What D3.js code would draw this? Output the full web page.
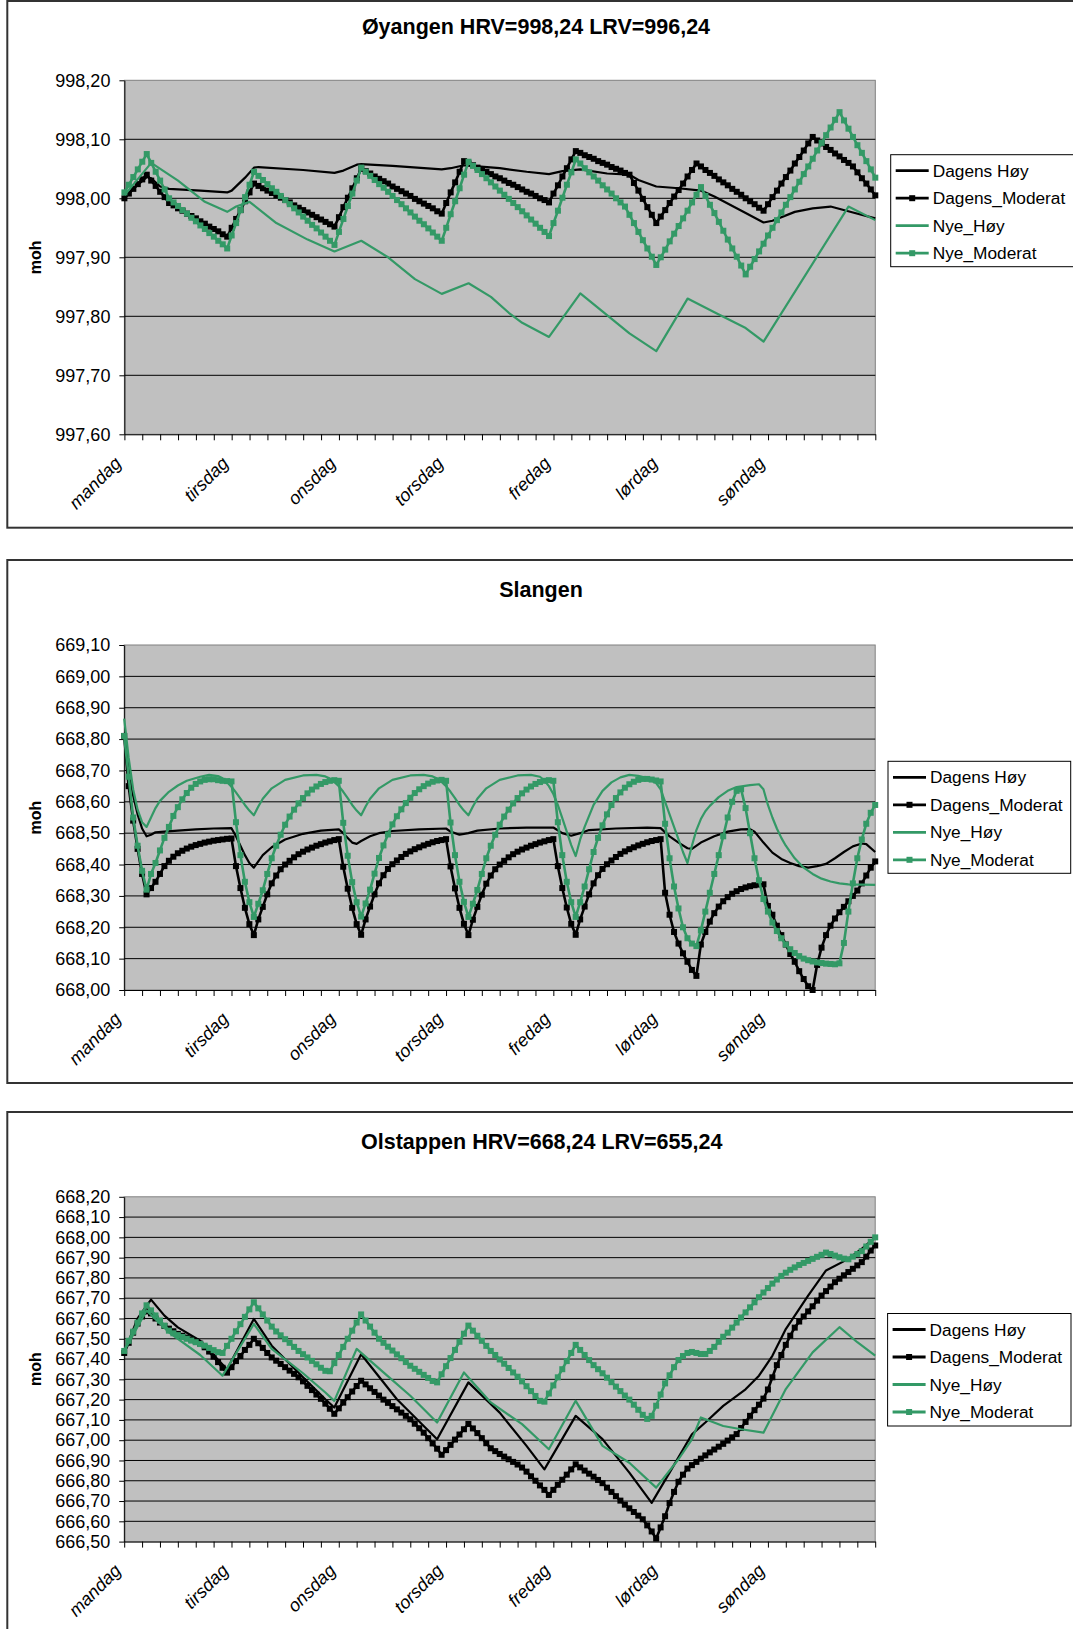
<!DOCTYPE html>
<html>
<head>
<meta charset="utf-8">
<script src="https://cdn.jsdelivr.net/npm/d3@7"></script>
<style>
  html, body { margin: 0; padding: 0; background: #ffffff; }
  svg { display: block; font-family: "Liberation Sans", Arial, sans-serif; }
</style>
</head>
<body>
<svg id="chart" width="1073" height="1629"></svg>
<script>
// ---- shared categories ----
const dayLabels = ["mandag", "tirsdag", "onsdag", "torsdag", "fredag", "lørdag", "søndag"];
const seriesNames = ["Dagens Høy", "Dagens_Moderat", "Nye_Høy", "Nye_Moderat"];

// ---- Øyangen (moh), hourly values over the week, hour 0..168 ----
const oyTicks = [997.6, 997.7, 997.8, 997.9, 998.0, 998.1, 998.2];
const oyDagensHoyHours  = [0,5,6,8,10,17,23,24,27,29,30,40,47,49,52,53,60,71,73,76,79,84,90,95,98,102,108,113,115,119,124,129,132,139,143,145,150,154,158,163,168];
const oyDagensHoyValues = [998.003,998.036,998.034,998.020,998.016,998.013,998.010,998.013,998.035,998.052,998.053,998.048,998.043,998.047,998.057,998.058,998.055,998.049,998.051,998.056,998.054,998.051,998.045,998.041,998.046,998.049,998.042,998.040,998.031,998.020,998.017,998.013,998.003,997.975,997.959,997.962,997.977,997.983,997.986,997.976,997.966];
const oyDagensModerat = [
  998.000,998.008,998.016,998.024,998.032,998.040,998.030,998.021,998.011,998.002,997.992,
  997.988,997.983,997.979,997.974,997.970,997.966,997.961,997.957,997.952,997.948,997.944,997.939,997.935,
  997.950,997.965,997.980,997.995,998.010,998.025,
  998.021,998.017,998.013,998.009,998.005,998.001,997.997,997.993,997.988,997.984,997.980,997.976,997.972,997.968,997.964,997.960,997.956,997.952,
  997.968,997.985,998.001,998.017,998.034,998.050,
  998.046,998.042,998.037,998.033,998.029,998.025,998.020,998.016,998.012,998.008,998.004,997.999,997.995,997.991,997.987,997.983,997.978,997.974,
  997.992,998.010,998.027,998.045,998.063,
  998.059,998.056,998.052,998.048,998.045,998.041,998.037,998.034,998.030,998.026,998.023,998.019,998.015,998.011,998.008,998.004,998.000,997.997,997.993,
  998.008,998.022,998.037,998.051,998.066,998.080,
  998.077,998.073,998.070,998.067,998.063,998.060,998.057,998.053,998.050,998.047,998.043,998.040,
  998.026,998.013,997.999,997.985,997.972,997.958,
  997.969,997.980,997.992,998.003,998.014,998.025,998.037,998.048,998.059,
  998.054,998.048,998.043,998.038,998.032,998.027,998.022,998.016,998.011,998.006,998.000,997.995,997.990,997.984,997.979,
  997.990,998.002,998.013,998.025,998.036,998.047,998.059,998.070,998.081,998.093,998.104,
  998.098,998.093,998.087,998.082,998.076,998.071,998.065,998.060,998.054,
  998.044,998.034,998.025,998.015,998.005
];
const oyNyeHoyHours  = [0,6,12,18,23,25,28,34,41,47,53,59,65,71,77,82,86,89,95,102,113,119,126,132,139,143,162,168];
const oyNyeHoyValues = [998.005,998.060,998.030,997.994,997.977,997.986,997.994,997.958,997.930,997.910,997.928,997.900,997.863,997.838,997.856,997.833,997.806,997.789,997.765,997.839,997.771,997.741,997.830,997.807,997.780,997.757,997.986,997.963];
const oyNyeModerat = [
  998.010,998.023,998.036,998.049,998.062,998.075,
  998.060,998.045,998.030,998.015,998.000,
  997.993,997.987,997.980,997.974,997.967,997.961,997.954,997.948,997.941,997.935,997.928,997.922,997.915,
  997.937,997.958,997.980,998.002,998.023,998.045,
  998.038,998.031,998.024,998.017,998.011,998.004,997.997,997.990,997.983,997.976,997.969,997.962,997.955,997.949,997.942,997.935,997.928,997.921,
  997.943,997.965,997.987,998.008,998.030,998.052,
  998.045,998.038,998.031,998.024,998.018,998.011,998.004,997.997,997.990,997.983,997.976,997.969,997.962,997.956,997.949,997.942,997.935,997.928,
  997.950,997.973,997.995,998.017,998.040,998.062,
  998.055,998.048,998.041,998.034,998.027,998.020,998.013,998.006,997.999,997.992,997.985,997.978,997.971,997.964,997.957,997.950,997.943,997.936,
  997.958,997.979,998.001,998.023,998.044,998.066,
  998.059,998.051,998.044,998.037,998.030,998.022,998.015,998.008,998.000,997.993,997.986,
  997.972,997.958,997.943,997.929,997.915,997.901,997.887,
  997.900,997.913,997.927,997.940,997.953,997.966,997.979,997.993,998.006,998.019,
  998.004,997.989,997.975,997.960,997.945,997.930,997.915,997.901,997.886,997.871,
  997.884,997.897,997.910,997.923,997.937,997.950,997.963,997.976,997.989,998.002,998.015,998.028,998.041,998.054,998.067,998.081,998.094,998.107,998.120,998.133,998.146,
  998.132,998.118,998.104,998.090,998.077,998.063,998.049,998.035
];

// ---- Slangen (moh) ----
const slTicks = [668.0, 668.1, 668.2, 668.3, 668.4, 668.5, 668.6, 668.7, 668.8, 668.9, 669.0, 669.1];
const slDagensHoyHours  = [0,1,2,3,4,5,6,7,9,12,16,20,24,25,26,27,28,29,30,31,33,36,40,44,48,49,50,51,52,53,55,57,60,66,72,73,75,77,79,84,90,96,98,100,102,104,110,117,120,122,124,126,127,129,132,135,138,140,141,143,145,147,149,151,153,155,157,159,161,163,165,166,168];
const slDagensHoyValues = [668.820,668.700,668.620,668.560,668.515,668.490,668.495,668.503,668.505,668.508,668.512,668.515,668.516,668.490,668.460,668.430,668.405,668.390,668.410,668.430,668.455,668.480,668.498,668.508,668.512,668.500,668.485,668.470,668.466,668.475,668.490,668.500,668.507,668.512,668.515,668.505,668.495,668.500,668.508,668.515,668.518,668.518,668.500,668.492,668.500,668.510,668.515,668.518,668.516,668.490,668.470,668.452,668.450,668.470,668.490,668.505,668.512,668.513,668.505,668.470,668.438,668.418,668.405,668.395,668.390,668.395,668.402,668.420,668.440,668.458,668.467,668.465,668.440];
const slDagensModerat = [
  668.810,668.650,668.540,668.450,668.370,668.305,668.325,668.345,668.370,668.395,668.412,668.425,668.436,668.444,668.451,668.457,668.462,668.466,668.470,668.473,668.476,668.478,668.480,668.482,668.483,
  668.395,668.325,668.262,668.210,668.175,668.225,668.265,668.305,668.340,668.365,668.385,668.400,668.412,668.423,668.433,668.441,668.448,668.454,668.460,668.465,668.470,668.474,668.478,668.481,
  668.393,668.323,668.262,668.210,668.176,668.225,668.266,668.305,668.340,668.366,668.386,668.401,668.413,668.424,668.434,668.442,668.449,668.455,668.461,668.466,668.471,668.475,668.478,668.481,
  668.394,668.324,668.262,668.211,668.175,668.224,668.265,668.304,668.339,668.365,668.385,668.400,668.412,668.423,668.433,668.441,668.448,668.454,668.460,668.465,668.470,668.474,668.478,668.481,
  668.395,668.325,668.263,668.211,668.176,668.225,668.266,668.305,668.340,668.366,668.386,668.401,668.413,668.424,668.434,668.442,668.449,668.455,668.461,668.466,668.471,668.475,668.478,668.481,
  668.310,668.240,668.185,668.148,668.117,668.090,668.064,668.045,668.145,668.185,668.218,668.245,668.266,668.283,668.296,668.307,668.315,668.322,668.327,668.331,668.334,668.336,668.337,668.268,
  668.240,668.205,668.175,668.145,668.115,668.090,668.060,668.035,668.012,668.000,668.080,668.135,668.175,668.205,668.228,668.248,668.265,668.283,668.300,668.317,668.340,668.365,668.390,668.410
];
const slNyeHoyHours  = [0,1,2,3,4,5,6,7,8,10,12,14,17,19,21,22,23,24,25,26,27,28,29,30,31,33,36,40,43,45,46,47,48,49,50,51,52,53,54,55,57,60,64,67,69,70,71,72,73,74,75,76,77,78,79,81,84,88,91,93,94,95,96,97,98,99,100,101,102,103,105,107,109,111,113,115,117,119,120,121,122,123,124,125,126,127,128,129,130,131,133,135,137,140,142,143,144,145,146,147,148,150,152,154,156,158,160,162,165,168];
const slNyeHoyValues = [668.865,668.740,668.640,668.575,668.535,668.520,668.550,668.580,668.603,668.632,668.652,668.667,668.680,668.686,668.682,668.675,668.663,668.648,668.630,668.610,668.590,668.572,668.557,668.585,668.610,668.643,668.670,668.684,668.686,668.681,668.674,668.663,668.650,668.632,668.612,668.590,668.572,668.557,668.585,668.610,668.643,668.670,668.684,668.686,668.681,668.674,668.663,668.650,668.632,668.612,668.590,668.572,668.557,668.585,668.610,668.643,668.670,668.684,668.686,668.680,668.668,668.650,668.625,668.590,668.548,668.505,668.462,668.427,668.480,668.520,668.590,668.635,668.662,668.678,668.686,668.683,668.675,668.660,668.640,668.600,668.560,668.520,668.480,668.440,668.405,668.460,668.510,668.545,668.570,668.587,668.615,668.635,668.647,668.653,668.656,668.640,668.590,668.550,668.515,668.485,668.460,668.420,668.390,668.370,668.355,668.346,668.340,668.337,668.336,668.335];
const slNyeModerat = [
  668.810,668.680,668.550,668.460,668.380,668.320,668.370,668.405,668.445,668.485,668.520,668.555,668.583,668.608,668.628,668.645,668.657,668.665,668.670,668.672,668.672,668.669,668.667,668.666,668.665,
  668.535,668.430,668.345,668.280,668.233,668.275,668.318,668.370,668.420,668.460,668.495,668.527,668.553,668.575,668.595,668.612,668.627,668.639,668.649,668.657,668.663,668.667,668.669,668.667,
  668.533,668.428,668.344,668.280,668.234,668.276,668.320,668.371,668.421,668.461,668.496,668.528,668.554,668.576,668.596,668.613,668.628,668.640,668.650,668.658,668.664,668.668,668.670,668.667,
  668.534,668.430,668.345,668.281,668.233,668.275,668.319,668.370,668.420,668.460,668.495,668.527,668.553,668.575,668.595,668.612,668.627,668.639,668.649,668.657,668.663,668.667,668.669,668.667,
  668.535,668.430,668.345,668.280,668.233,668.280,668.330,668.385,668.440,668.485,668.525,668.560,668.590,668.612,668.630,668.645,668.656,668.664,668.670,668.673,668.673,668.671,668.668,668.665,
  668.530,668.420,668.330,668.260,668.200,668.165,668.148,668.140,668.190,668.250,668.310,668.370,668.430,668.490,668.550,668.600,668.635,668.640,668.580,668.500,668.420,668.350,668.290,668.250,
  668.215,668.188,668.165,668.145,668.130,668.118,668.108,668.100,668.095,668.091,668.088,668.086,668.084,668.083,668.082,668.085,668.150,668.250,668.340,668.420,668.480,668.530,668.565,668.590
];

// ---- Olstappen (moh) ----
const olTicks = [666.5, 666.6, 666.7, 666.8, 666.9, 667.0, 667.1, 667.2, 667.3, 667.4, 667.5, 667.6, 667.7, 667.8, 667.9, 668.0, 668.1, 668.2];
const olDagensHoyHours  = [0,3,6,9,12,17,20,23,29,33,40,45,47,53,61,67,70,77,84,90,94,101,107,113,118,122,127,130,134,139,142,145,148,153,157,162,165,168];
const olDagensHoyValues = [667.433,667.600,667.693,667.614,667.556,667.490,667.420,667.350,667.598,667.466,667.310,667.202,667.161,667.424,667.202,667.070,667.005,667.285,667.136,666.972,666.856,667.120,667.005,666.840,666.691,666.840,667.029,667.087,667.169,667.251,667.318,667.416,667.548,667.713,667.837,667.894,667.944,668.000];
const olDagensModerat = [
  667.430,667.480,667.530,667.575,667.610,667.635,
  667.625,667.600,667.580,667.563,667.550,667.537,667.524,667.515,667.506,667.497,667.488,667.476,667.458,667.437,667.412,667.385,667.357,667.333,
  667.360,667.390,667.415,667.445,667.470,667.500,
  667.478,667.455,667.430,667.408,667.392,667.376,667.360,667.343,667.327,667.310,667.290,667.268,667.247,667.225,667.204,667.180,667.155,667.130,
  667.157,667.185,667.212,667.240,667.267,667.293,
  667.275,667.256,667.238,667.220,667.200,667.184,667.168,667.152,667.136,667.120,667.103,667.081,667.059,667.037,667.010,666.984,666.958,666.928,
  666.951,666.977,667.003,667.028,667.054,667.080,
  667.058,667.035,667.010,666.985,666.960,666.946,666.932,666.919,666.906,666.893,666.880,666.865,666.845,666.822,666.800,666.777,666.755,666.730,
  666.755,666.780,666.805,666.830,666.856,666.881,
  666.866,666.850,666.835,666.820,666.804,666.788,666.766,666.745,666.724,666.702,666.682,666.664,666.646,666.628,666.610,666.580,666.550,666.515,
  666.570,666.625,666.690,666.745,666.795,666.830,666.860,666.877,666.893,666.909,666.925,666.940,666.954,666.968,666.982,666.998,667.014,667.030,
  667.060,667.090,667.120,667.148,667.175,667.205,667.250,667.310,667.370,667.420,667.470,667.515,667.555,667.585,667.610,667.635,667.660,667.688,
  667.713,667.735,667.757,667.779,667.796,667.813,667.829,667.845,667.862,667.878,667.905,667.935,667.960
];
const olNyeHoyHours  = [0,5,10,17,22,29,33,40,45,47,52,58,64,70,76,82,89,95,101,107,113,119,124,127,129,134,138,143,148,154,160,164,168];
const olNyeHoyValues = [667.440,667.640,667.532,667.420,667.318,667.573,667.450,667.330,667.235,667.194,667.450,667.334,667.219,667.087,667.334,667.186,667.079,666.955,667.194,666.972,666.889,666.766,666.906,667.004,667.112,667.070,667.054,667.037,667.252,667.433,667.557,667.483,667.417];
const olNyeModerat = [
  667.440,667.490,667.535,667.580,667.625,667.665,
  667.640,667.615,667.590,667.565,667.540,667.527,667.518,667.509,667.500,667.491,667.483,667.474,667.466,667.455,667.444,667.434,667.430,
  667.465,667.500,667.537,667.572,667.608,667.645,667.680,
  667.650,667.620,667.590,667.560,667.536,667.517,667.498,667.480,667.460,667.440,667.424,667.408,667.391,667.374,667.357,667.342,667.340,
  667.380,667.420,667.460,667.500,667.540,667.580,667.620,
  667.590,667.560,667.530,667.500,667.480,667.461,667.442,667.423,667.404,667.385,667.367,667.352,667.337,667.322,667.307,667.292,667.285,
  667.325,667.365,667.405,667.445,667.485,667.525,667.565,
  667.540,667.515,667.490,667.465,667.440,667.420,667.398,667.377,667.356,667.334,667.313,667.290,667.266,667.242,667.218,667.194,667.190,
  667.230,667.270,667.310,667.350,667.390,667.430,667.470,
  667.445,667.420,667.395,667.370,667.350,667.330,667.308,667.286,667.264,667.242,667.220,667.200,667.175,667.150,667.125,667.105,
  667.120,667.170,667.225,667.280,667.320,667.360,667.395,667.415,667.430,667.435,667.430,667.425,667.425,667.440,667.460,667.485,667.510,
  667.530,667.555,667.580,667.605,667.630,667.655,667.680,667.705,667.728,667.750,667.772,667.792,667.810,667.826,667.840,667.852,667.864,
  667.874,667.884,667.894,667.904,667.914,667.925,667.918,667.910,667.902,667.895,667.892,667.905,667.918,667.932,667.955,667.978,668.000
];

// ---- drawing ----
const GREEN = "#339966";
const BLACK = "#000000";
const svg = d3.select("#chart");
const commaFmt = v => d3.format(".2f")(v).replace(".", ",");
const hourly = vals => vals.map((v, i) => [i, v]);
const paired = (hours, vals) => hours.map((h, i) => [h, vals[i]]);

const panels = [
  {
    title: "Øyangen HRV=998,24 LRV=996,24", titleX: 536, titleY: 34,
    frame: { top: 1, bottom: 527.7 },
    plot: { left: 124.4, right: 875.3, top: 80.3, bottom: 434.3 },
    ticks: oyTicks,
    legend: { x: 890.7, y: 154.7, w: 183, h: 112 },
    series: [
      { name: seriesNames[0], color: BLACK, marker: false, data: paired(oyDagensHoyHours, oyDagensHoyValues) },
      { name: seriesNames[1], color: BLACK, marker: true,  data: hourly(oyDagensModerat) },
      { name: seriesNames[2], color: GREEN, marker: false, data: paired(oyNyeHoyHours, oyNyeHoyValues) },
      { name: seriesNames[3], color: GREEN, marker: true,  data: hourly(oyNyeModerat) }
    ]
  },
  {
    title: "Slangen", titleX: 541, titleY: 596.5,
    frame: { top: 560, bottom: 1083 },
    plot: { left: 124.2, right: 875.2, top: 645, bottom: 990 },
    ticks: slTicks,
    legend: { x: 888, y: 761.3, w: 182.7, h: 112 },
    series: [
      { name: seriesNames[0], color: BLACK, marker: false, data: paired(slDagensHoyHours, slDagensHoyValues) },
      { name: seriesNames[1], color: BLACK, marker: true,  data: hourly(slDagensModerat) },
      { name: seriesNames[2], color: GREEN, marker: false, data: paired(slNyeHoyHours, slNyeHoyValues) },
      { name: seriesNames[3], color: GREEN, marker: true,  data: hourly(slNyeModerat) }
    ]
  },
  {
    title: "Olstappen HRV=668,24 LRV=655,24", titleX: 541.7, titleY: 1149,
    frame: { top: 1112, bottom: 1640 },
    plot: { left: 124.2, right: 875.2, top: 1196.8, bottom: 1541.6 },
    ticks: olTicks,
    legend: { x: 887.6, y: 1313.5, w: 183.4, h: 112.5 },
    series: [
      { name: seriesNames[0], color: BLACK, marker: false, data: paired(olDagensHoyHours, olDagensHoyValues) },
      { name: seriesNames[1], color: BLACK, marker: true,  data: hourly(olDagensModerat) },
      { name: seriesNames[2], color: GREEN, marker: false, data: paired(olNyeHoyHours, olNyeHoyValues) },
      { name: seriesNames[3], color: GREEN, marker: true,  data: hourly(olNyeModerat) }
    ]
  }
];

function drawPanel(p) {
  const g = svg.append("g");

  // chart frame (runs past the right edge of the page)
  g.append("rect")
    .attr("x", 7.3).attr("y", p.frame.top)
    .attr("width", 1100).attr("height", p.frame.bottom - p.frame.top)
    .attr("fill", "#ffffff").attr("stroke", "#333333").attr("stroke-width", 2);

  const x = d3.scaleLinear().domain([0, 168]).range([p.plot.left, p.plot.right]);
  const y = d3.scaleLinear()
    .domain([p.ticks[0], p.ticks[p.ticks.length - 1]])
    .range([p.plot.bottom, p.plot.top]);

  // plot area
  g.append("rect")
    .attr("x", p.plot.left).attr("y", p.plot.top)
    .attr("width", p.plot.right - p.plot.left).attr("height", p.plot.bottom - p.plot.top)
    .attr("fill", "#c0c0c0").attr("stroke", "#808080").attr("stroke-width", 1);

  // horizontal gridlines
  g.append("g").selectAll("line")
    .data(p.ticks.slice(1, -1))
    .join("line")
    .attr("x1", p.plot.left).attr("x2", p.plot.right)
    .attr("y1", d => y(d)).attr("y2", d => y(d))
    .attr("stroke", "#000000").attr("stroke-width", 1);

  // value axis
  const yAxis = g.append("g")
    .attr("transform", `translate(${p.plot.left},0)`)
    .call(d3.axisLeft(y).tickValues(p.ticks).tickSize(5).tickSizeOuter(0).tickPadding(9).tickFormat(commaFmt));
  yAxis.select(".domain").attr("stroke", "#000");
  yAxis.selectAll(".tick line").attr("stroke", "#000");
  yAxis.selectAll("text")
    .attr("font-family", "Liberation Sans, Arial, sans-serif")
    .attr("font-size", 18).attr("fill", "#000");

  // category axis: a tick every 4 hours
  const xAxis = g.append("g")
    .attr("transform", `translate(0,${p.plot.bottom})`)
    .call(d3.axisBottom(x).tickValues(d3.range(0, 169, 4)).tickSize(6).tickSizeOuter(0).tickFormat(""));
  xAxis.select(".domain").attr("stroke", "#000");
  xAxis.selectAll(".tick line").attr("stroke", "#000");

  // day labels, one per 24 hours
  g.append("g").selectAll("text")
    .data(dayLabels)
    .join("text")
    .attr("transform", (d, i) => `translate(${x(i * 24) - 2},${p.plot.bottom + 30}) rotate(-45)`)
    .attr("text-anchor", "end")
    .attr("font-style", "italic")
    .attr("font-size", 18)
    .attr("fill", "#000")
    .text(d => d);

  // series
  const line = d3.line().x(d => x(d[0])).y(d => y(d[1]));
  p.series.forEach(s => {
    g.append("path")
      .datum(s.data)
      .attr("d", line)
      .attr("fill", "none")
      .attr("stroke", s.color)
      .attr("stroke-width", s.marker ? 2.6 : 2.2)
      .attr("stroke-linejoin", "round");
    if (s.marker) {
      g.append("g").selectAll("rect")
        .data(s.data)
        .join("rect")
        .attr("x", d => x(d[0]) - 3).attr("y", d => y(d[1]) - 3)
        .attr("width", 6).attr("height", 6)
        .attr("fill", s.color);
    }
  });

  // title
  g.append("text")
    .attr("x", p.titleX).attr("y", p.titleY)
    .attr("text-anchor", "middle")
    .attr("font-weight", "bold").attr("font-size", 21.5)
    .attr("fill", "#000")
    .text(p.title);

  // value axis title
  g.append("text")
    .attr("transform", `translate(41,${(p.plot.top + p.plot.bottom) / 2}) rotate(-90)`)
    .attr("text-anchor", "middle")
    .attr("font-weight", "bold").attr("font-size", 16)
    .attr("fill", "#000")
    .text("moh");

  // legend
  const lg = g.append("g").attr("transform", `translate(${p.legend.x},${p.legend.y})`);
  lg.append("rect")
    .attr("width", p.legend.w).attr("height", p.legend.h)
    .attr("fill", "#ffffff").attr("stroke", "#000").attr("stroke-width", 1);
  const rows = lg.selectAll("g.row")
    .data(p.series)
    .join("g")
    .attr("class", "row")
    .attr("transform", (d, i) => `translate(0,${16 + i * 27.5})`);
  rows.append("line")
    .attr("x1", 5).attr("x2", 38)
    .attr("stroke", d => d.color).attr("stroke-width", 2.8);
  rows.filter(d => d.marker).append("rect")
    .attr("x", 18.5).attr("y", -3).attr("width", 6).attr("height", 6)
    .attr("fill", d => d.color);
  rows.append("text")
    .attr("x", 42).attr("dy", "0.35em")
    .attr("font-size", 17.3).attr("fill", "#000")
    .text(d => d.name);
}

panels.forEach(drawPanel);
</script>
</body>
</html>
